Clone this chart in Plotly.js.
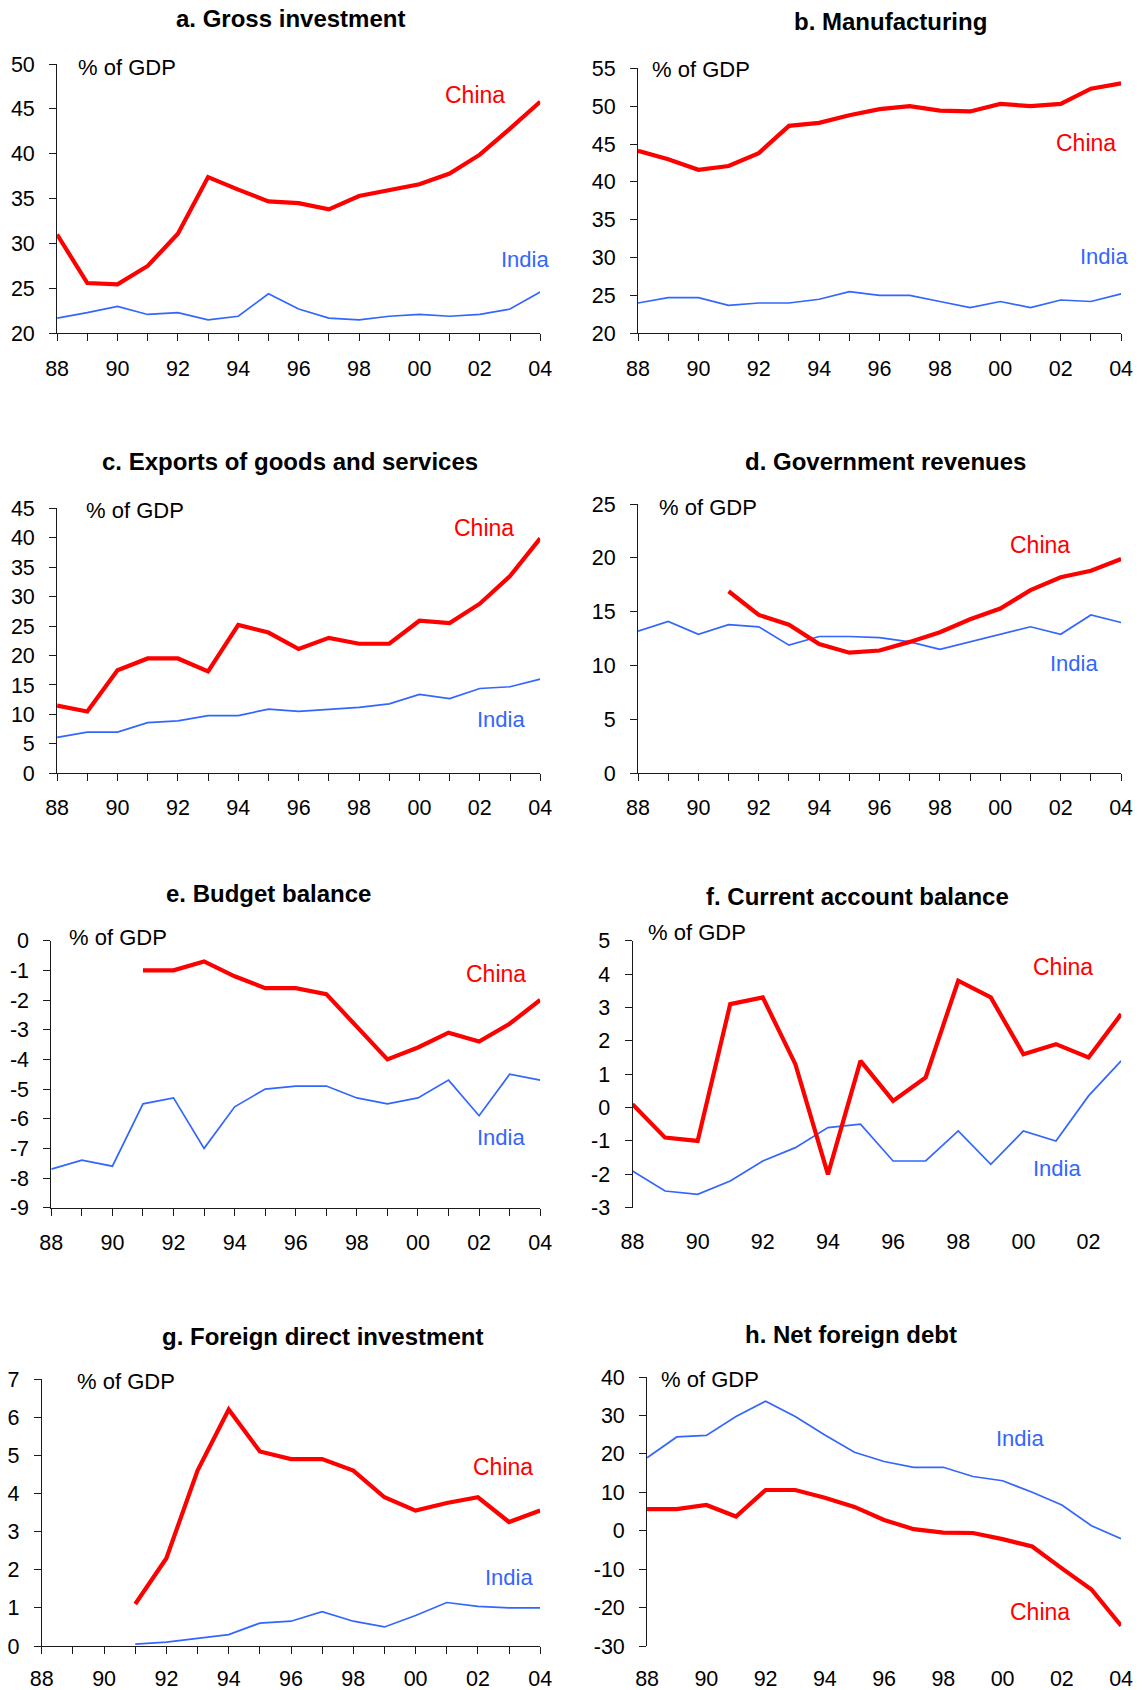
<!DOCTYPE html>
<html><head><meta charset="utf-8">
<script src="https://cdn.plot.ly/plotly-3.0.1.min.js"></script>
<style>html,body{margin:0;padding:0;background:#fff}#chart{width:1143px;height:1690px}</style>
</head><body><div id="chart"></div>
<script>
// ---------- DATA ----------
const years = [1988,1989,1990,1991,1992,1993,1994,1995,1996,1997,1998,1999,2000,2001,2002,2003,2004];
const yearsCA = [1988,1989,1990,1991,1992,1993,1994,1995,1996,1997,1998,1999,2000,2001,2002,2003];
const xTickText = ['88','','90','','92','','94','','96','','98','','00','','02','','04'];
const xTickTextCA = ['88','','90','','92','','94','','96','','98','','00','','02',''];

const investChina = [31.0,25.6,25.45,27.5,31.1,37.4,36.0,34.7,34.5,33.8,35.3,35.9,36.6,37.8,39.9,42.8,45.8];
const investIndia = [21.7,22.3,23.0,22.1,22.3,21.5,21.9,24.4,22.7,21.7,21.5,21.9,22.1,21.9,22.1,22.7,24.6];
const manufChina = [44.1,43.0,41.6,42.1,43.8,47.4,47.8,48.8,49.6,50.0,49.4,49.3,50.3,50.0,50.3,52.3,53.0];
const manufIndia = [24.0,24.7,24.7,23.7,24.0,24.0,24.5,25.5,25.0,25.0,24.2,23.4,24.2,23.4,24.4,24.2,25.2];
const exportsChina = [11.5,10.5,17.5,19.5,19.5,17.3,25.2,23.9,21.1,23.0,22.0,22.0,25.9,25.5,28.8,33.5,39.9];
const exportsIndia = [6.1,7.0,7.0,8.6,8.9,9.8,9.8,10.9,10.5,10.9,11.2,11.8,13.4,12.7,14.4,14.7,16.0];
const revenueChina = [null,null,null,16.9,14.7,13.8,12.0,11.2,11.4,12.2,13.1,14.3,15.3,17.0,18.2,18.8,19.9];
const revenueIndia = [13.2,14.1,12.9,13.8,13.6,11.9,12.7,12.7,12.6,12.2,11.5,12.2,12.9,13.6,12.9,14.7,14.0];
const budgetChina = [null,null,null,-1.0,-1.0,-0.7,-1.2,-1.6,-1.6,-1.8,-2.9,-4.0,-3.6,-3.1,-3.4,-2.8,-2.0];
const budgetIndia = [-7.7,-7.4,-7.6,-5.5,-5.3,-7.0,-5.6,-5.0,-4.9,-4.9,-5.3,-5.5,-5.3,-4.7,-5.9,-4.5,-4.7];
const currentChina = [0.1,-0.9,-1.0,3.1,3.3,1.3,-2.0,1.4,0.2,0.9,3.8,3.3,1.6,1.9,1.5,2.8];
const currentIndia = [-1.9,-2.5,-2.6,-2.2,-1.6,-1.2,-0.6,-0.5,-1.6,-1.6,-0.7,-1.7,-0.7,-1.0,0.35,1.4];
const fdiChina = [null,null,null,1.1,2.3,4.6,6.2,5.1,4.9,4.9,4.6,3.9,3.55,3.75,3.9,3.25,3.55];
const fdiIndia = [null,null,null,0.05,0.1,0.2,0.3,0.6,0.65,0.9,0.65,0.5,0.8,1.14,1.04,1.0,1.0];
const debtChina = [5.6,5.6,6.7,3.7,10.6,10.6,8.6,6.2,2.8,0.4,-0.5,-0.6,-2.2,-4.1,-9.8,-15.3,-24.7];
const debtIndia = [19.0,24.4,24.8,29.7,33.7,29.7,24.9,20.4,18.0,16.5,16.5,14.1,13.0,10.0,6.7,1.3,-2.1];

const yTicksA = [20,25,30,35,40,45,50];
const yTicksB = [20,25,30,35,40,45,50,55];
const yTicksC = [0,5,10,15,20,25,30,35,40,45];
const yTicksD = [0,5,10,15,20,25];
const yTicksE = [0,-1,-2,-3,-4,-5,-6,-7,-8,-9];
const yTicksF = [5,4,3,2,1,0,-1,-2,-3];
const yTicksG = [0,1,2,3,4,5,6,7];
const yTicksH = [40,30,20,10,0,-10,-20,-30];

const titles = ['a. Gross investment','b. Manufacturing','c. Exports of goods and services','d. Government revenues',
  'e. Budget balance','f. Current account balance','g. Foreign direct investment','h. Net foreign debt'];
const unitLabel = '% of GDP';
const chinaName = 'China';
const indiaName = 'India';

// ---------- LAYOUT ----------
const W = 1143, H = 1690;
const fx = p => p / W;
const fy = p => 1 - p / H;
const FONT = 'Liberation Sans, Arial, Helvetica, sans-serif';
const RED = '#FF0000', BLUE = '#3366FF', AX = '#1a1a1a';
const TICK = 21.5;

// pixel boxes [left, right, top, bottom]; xlab = integer label standoff (px)
const panels = [
  {box:[57.1,540.2,64,333.3],  x:years,   xt:xTickText,   c:investChina,  i:investIndia,  yt:yTicksA, r:[20,50],
   title:[290,19], unit:[75.6,67], china:[475,95], india:[525,259], xlab:9},
  {box:[638,1121.1,68.3,333.3], x:years,  xt:xTickText,   c:manufChina,   i:manufIndia,   yt:yTicksB, r:[20,55],
   title:[890,21], unit:[649.7,70], china:[1086,143], india:[1104,257], xlab:9},
  {box:[57.1,540.2,508.3,773.3], x:years, xt:xTickText,   c:exportsChina, i:exportsIndia, yt:yTicksC, r:[0,45],
   title:[290,461], unit:[83.6,510], china:[484,528], india:[501,720], xlab:8},
  {box:[638,1121.1,504,773.3], x:years,   xt:xTickText,   c:revenueChina, i:revenueIndia, yt:yTicksD, r:[0,25],
   title:[885,461], unit:[657,507], china:[1040,545], india:[1074,664], xlab:8},
  {box:[51.3,540.2,940.7,1207.7], x:years,  xt:xTickText,   c:budgetChina,  i:budgetIndia,  yt:yTicksE, r:[-9,0],
   title:[268,894], unit:[66.5,937], china:[496,974], india:[501,1137], xlab:8},
  {box:[632.5,1121.1,940.7,1207.7], x:yearsCA, xt:xTickTextCA, c:currentChina, i:currentIndia, yt:yTicksF, r:[-3,5],
   title:[857,896], unit:[645.6,932], china:[1063,967], india:[1057,1168], xlab:19, zeroAxis:true},
  {box:[41.8,540.2,1379,1646], x:years,   xt:xTickText,   c:fdiChina,     i:fdiIndia,     yt:yTicksG, r:[0,7],
   title:[322,1336], unit:[74.5,1381], china:[503,1467], india:[509,1577], xlab:6},
  {box:[647.1,1121.1,1377,1646], x:years, xt:xTickText,   c:debtChina,    i:debtIndia,    yt:yTicksH, r:[-30,40],
   title:[851,1334], unit:[658.8,1379], china:[1040,1612], india:[1020,1438], xlab:17, zeroAxis:true}
];

const traces = [];
const layout = {
  width: W, height: H,
  margin: {l:0, r:0, t:0, b:0},
  paper_bgcolor: '#fff', plot_bgcolor: 'rgba(0,0,0,0)',
  showlegend: false,
  font: {family: FONT, size: TICK, color: '#000'},
  annotations: []
};

let extra = 9;
panels.forEach((p, k) => {
  const n = k + 1;
  const xa = n === 1 ? 'xaxis' : 'xaxis' + n;
  const ya = n === 1 ? 'yaxis' : 'yaxis' + n;
  const xr = n === 1 ? 'x' : 'x' + n;
  const yr = n === 1 ? 'y' : 'y' + n;
  const [L, R, T, B] = p.box;
  const xdom = [fx(L), fx(R)];
  const ydom = [fy(B), fy(T)];
  const xrange = [p.x[0], p.x[p.x.length - 1]];

  traces.push({x: p.x, y: p.i, xaxis: xr, yaxis: yr, type: 'scatter', mode: 'lines',
    line: {color: BLUE, width: 1.7}, hoverinfo: 'skip', connectgaps: false});
  traces.push({x: p.x, y: p.c, xaxis: xr, yaxis: yr, type: 'scatter', mode: 'lines',
    line: {color: RED, width: 4.2}, hoverinfo: 'skip', connectgaps: false});

  const zero = !!p.zeroAxis;
  layout[xa] = {
    domain: xdom, anchor: yr, range: xrange, fixedrange: true,
    tickmode: 'array', tickvals: p.x, ticktext: p.xt,
    ticks: zero ? '' : 'outside', ticklen: 7, tickwidth: 1, tickcolor: AX,
    showline: !zero, linecolor: AX, linewidth: 1,
    showgrid: false, zeroline: false,
    tickfont: {family: FONT, size: TICK, color: '#000'},
    ticklabelstandoff: p.xlab
  };
  layout[ya] = {
    domain: ydom, anchor: xr, range: p.r, fixedrange: true,
    tickmode: 'array', tickvals: p.yt, ticktext: p.yt.map(v => String(v)),
    ticks: 'outside', ticklen: 7, tickwidth: 1, tickcolor: AX,
    showline: true, linecolor: AX, linewidth: 1,
    showgrid: false, zeroline: false,
    tickfont: {family: FONT, size: TICK, color: '#000'},
    ticklabelstandoff: 10
  };
  if (zero) {
    const pos = ydom[0] + (0 - p.r[0]) / (p.r[1] - p.r[0]) * (ydom[1] - ydom[0]);
    const za = 'xaxis' + extra;
    layout[za] = {
      domain: xdom, anchor: 'free', position: pos, overlaying: xr, range: xrange, fixedrange: true,
      tickmode: 'array', tickvals: p.x, showticklabels: false,
      ticks: 'outside', ticklen: 7, tickwidth: 1, tickcolor: AX,
      showline: true, linecolor: AX, linewidth: 1, showgrid: false, zeroline: false
    };
    extra++;
  }

  layout.annotations.push({text: '<b>' + titles[k] + '</b>', xref: 'paper', yref: 'paper',
    x: fx(p.title[0]), y: fy(p.title[1]), xanchor: 'center', yanchor: 'middle', showarrow: false,
    font: {family: FONT, size: 24, color: '#000'}});
  layout.annotations.push({text: unitLabel, xref: 'paper', yref: 'paper',
    x: fx(p.unit[0]), y: fy(p.unit[1]), xanchor: 'left', yanchor: 'middle', showarrow: false,
    font: {family: FONT, size: 22, color: '#000'}});
  layout.annotations.push({text: chinaName, xref: 'paper', yref: 'paper',
    x: fx(p.china[0]), y: fy(p.china[1]), xanchor: 'center', yanchor: 'middle', showarrow: false,
    font: {family: FONT, size: 23, color: RED}});
  layout.annotations.push({text: indiaName, xref: 'paper', yref: 'paper',
    x: fx(p.india[0]), y: fy(p.india[1]), xanchor: 'center', yanchor: 'middle', showarrow: false,
    font: {family: FONT, size: 22, color: BLUE}});
});

Plotly.newPlot('chart', traces, layout, {staticPlot: true, displayModeBar: false});
</script>
</body></html>
